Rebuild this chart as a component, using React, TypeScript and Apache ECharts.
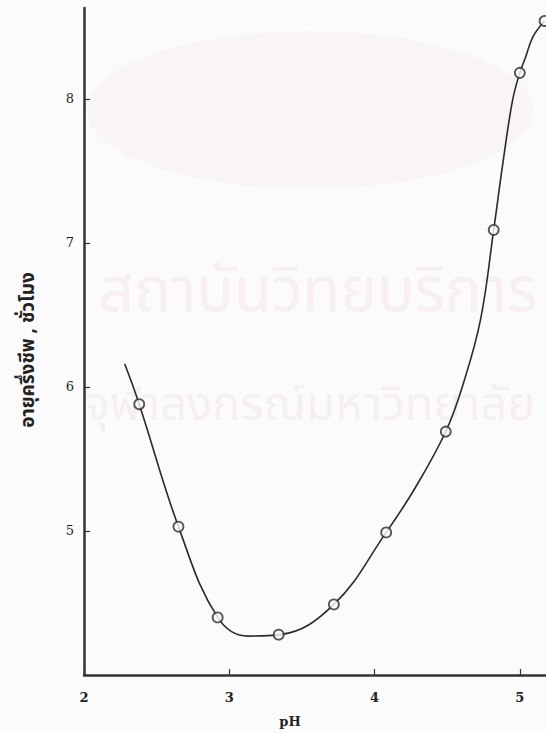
import React, { useEffect, useRef } from "react";
import * as echarts from "echarts";

// measured points (open circles)
const phValues = [2.38, 2.65, 2.92, 3.34, 3.72, 4.08, 4.49, 4.82, 5.0, 5.17];
const halfLife = [5.88, 5.03, 4.4, 4.28, 4.49, 4.99, 5.69, 7.09, 8.18, 8.54];

// hand-drawn fitted curve
const curvePh = [2.28, 2.38, 2.65, 2.92, 3.13, 3.35, 3.72, 4.08, 4.28, 4.49, 4.61, 4.73, 4.82, 4.88, 4.95, 5.0, 5.04, 5.09, 5.17];
const curveHalfLife = [6.16, 5.88, 5.03, 4.4, 4.27, 4.28, 4.49, 4.99, 5.3, 5.69, 6.02, 6.47, 7.09, 7.53, 7.99, 8.18, 8.29, 8.43, 8.54];

const xTicks = [2, 3, 4, 5];
const yTicks = [5, 6, 7, 8];

const yAxisTitle = "อายุครึ่งชีพ , ชั่วโมง";
const xAxisTitle = "pH";
const watermark1 = "สถาบันวิทยบริการ";
const watermark2 = "จุฬาลงกรณ์มหาวิทยาลัย";

export default function App() {
  const ref = useRef<HTMLDivElement>(null);
  useEffect(() => {
    if (!ref.current) return;
    const chart = echarts.init(ref.current, null, { renderer: "svg" });
    const thai = "'Noto Sans Thai', 'Noto Sans', 'DejaVu Sans', sans-serif";
    const serif = "'DejaVu Serif', 'Liberation Serif', serif";
    chart.setOption({
      animation: false,
      backgroundColor: "#fbfbfb",
      grid: { left: 84, right: 0, top: 8, bottom: 58 },
      xAxis: {
        type: "value",
        min: 2,
        max: 5.18,
        interval: 1,
        axisLine: { show: true, lineStyle: { color: "#333", width: 2.5 } },
        axisTick: { show: true, inside: true, length: 6, lineStyle: { color: "#333", width: 1.2 } },
        splitLine: { show: false },
        axisLabel: {
          margin: 16,
          color: "#222",
          fontFamily: serif,
          fontWeight: "bold",
          fontSize: 13,
          showMaxLabel: false,
          formatter: (v: number) => (xTicks.includes(v) ? String(v) : ""),
        },
      },
      yAxis: {
        type: "value",
        min: 4,
        max: 8.63,
        interval: 1,
        axisLine: { show: true, lineStyle: { color: "#333", width: 2.5 } },
        axisTick: { show: true, inside: true, length: 6, lineStyle: { color: "#333", width: 1.2 } },
        splitLine: { show: false },
        axisLabel: {
          margin: 10,
          color: "#222",
          fontFamily: serif,
          fontSize: 13,
          showMinLabel: false,
          showMaxLabel: false,
          formatter: (v: number) => (yTicks.includes(v) ? String(v) : ""),
        },
      },
      graphic: [
        {
          type: "ellipse",
          shape: { cx: 310, cy: 110, rx: 223, ry: 79 },
          style: { fill: "rgba(240,215,225,0.16)" },
          z: -10,
          silent: true,
        },
        {
          type: "text",
          x: 318,
          y: 292,
          style: {
            text: watermark1,
            font: `62px ${thai}`,
            fill: "rgba(230,195,210,0.22)",
            align: "center",
            verticalAlign: "middle",
          },
          z: -10,
          silent: true,
        },
        {
          type: "text",
          x: 310,
          y: 405,
          style: {
            text: watermark2,
            font: `47px ${thai}`,
            fill: "rgba(230,195,210,0.22)",
            align: "center",
            verticalAlign: "middle",
          },
          z: -10,
          silent: true,
        },
        {
          type: "text",
          x: 28,
          y: 350,
          rotation: Math.PI / 2,
          style: {
            text: yAxisTitle,
            font: `bold 19px ${thai}`,
            fill: "#222",
            align: "center",
            verticalAlign: "middle",
          },
        },
        {
          type: "text",
          x: 290,
          y: 721,
          style: {
            text: xAxisTitle,
            font: `bold 13px ${serif}`,
            fill: "#222",
            align: "center",
            verticalAlign: "middle",
          },
        },
      ],
      series: [
        {
          type: "line",
          data: curvePh.map((x, i) => [x, curveHalfLife[i]]),
          smooth: 0.4,
          showSymbol: false,
          clip: false,
          lineStyle: { color: "#2a2a2a", width: 1.6 },
          z: 2,
        },
        {
          type: "scatter",
          data: phValues.map((x, i) => [x, halfLife[i]]),
          symbol: "circle",
          symbolSize: 10,
          clip: false,
          itemStyle: { color: "#fbfbfb", borderColor: "#2a2a2a", borderWidth: 1.8 },
          z: 3,
        },
      ],
    });
    return () => chart.dispose();
  }, []);
  return (
    <div
      ref={ref}
      style={{ position: "absolute", left: 0, top: 0, width: 546, height: 733 }}
    />
  );
}
